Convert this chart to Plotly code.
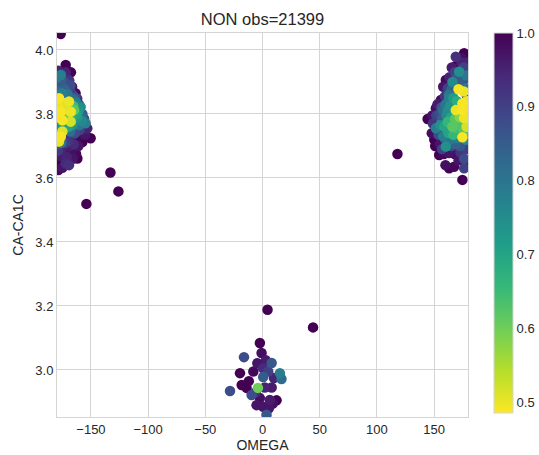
import plotly.graph_objects as go

# Left cluster (OMEGA near -180)
left_omega = [-176.5, -172.1, -167.5, -178.5, -175.5, -179.0, -176.4, -171.5, -169.0, -173.5,
              -178.5, -176.0, -170.6, -166.5, -168.5, -173.0, -179.0, -163.5, -166.0, -170.5,
              -175.5, -162.0, -165.0, -160.5, -159.0, -163.0, -164.8, -161.0, -157.5, -156.0,
              -154.7, -158.0, -162.0, -160.0, -153.2, -156.5, -150.3, -155.0, -159.0, -163.0,
              -166.0, -170.0, -174.0, -178.5, -162.0, -166.0, -170.0, -173.0, -157.5, -161.0,
              -165.0, -169.0, -172.5, -179.0, -176.0, -172.0, -167.0, -163.0, -179.0, -161.9,
              -166.0, -171.0, -176.0, -179.0, -169.2, -175.0, -178.5, -172.0,
              -176.0, -172.0, -168.0, -164.0, -161.0, -158.0, -163.0, -167.0, -171.0, -160.0,
              -164.0, -168.0, -176.0, -170.0,
              -175.0, -172.0, -177.9, -169.2, -173.0, -179.0, -176.4, -167.7, -171.0, -175.0,
              -167.7, -179.0, -176.4, -178.0, -175.0, -172.0, -165.5,
              -133.0, -126.0, -154.0]
left_ca = [4.050, 3.953, 3.930, 3.935, 3.925, 3.915, 3.922, 3.915, 3.905, 3.900,
           3.895, 3.890, 3.890, 3.885, 3.875, 3.878, 3.872, 3.865, 3.860, 3.862,
           3.865, 3.848, 3.845, 3.830, 3.822, 3.835, 3.812, 3.808, 3.800, 3.785,
           3.771, 3.778, 3.790, 3.765, 3.755, 3.750, 3.724, 3.735, 3.742, 3.755,
           3.765, 3.760, 3.755, 3.760, 3.725, 3.735, 3.728, 3.730, 3.712, 3.700,
           3.705, 3.700, 3.710, 3.705, 3.690, 3.685, 3.680, 3.675, 3.685, 3.661,
           3.660, 3.665, 3.668, 3.655, 3.640, 3.632, 3.625, 3.645,
           3.905, 3.930, 3.890, 3.850, 3.820, 3.790, 3.800, 3.790, 3.775, 3.750,
           3.740, 3.745, 3.710, 3.715,
           3.770, 3.755, 3.849, 3.839, 3.830, 3.825, 3.807, 3.807, 3.815, 3.780,
           3.776, 3.790, 3.729, 3.714, 3.745, 3.795, 3.825,
           3.617, 3.558, 3.519]
left_val = [1.00, 1.00, 1.00, 0.95, 0.93, 0.80, 0.78, 0.97, 0.92, 0.88,
            0.90, 0.86, 0.89, 0.97, 0.91, 0.84, 0.83, 0.99, 0.90, 0.80,
            0.78, 0.92, 0.82, 0.90, 0.75, 0.78, 0.62, 0.73, 0.85, 0.88,
            0.78, 0.76, 0.72, 0.80, 0.95, 0.96, 1.00, 0.97, 0.98, 0.92,
            0.74, 0.70, 0.73, 0.76, 0.99, 0.95, 0.93, 0.98, 1.00, 0.97,
            0.94, 0.96, 0.90, 0.88, 0.95, 0.97, 0.98, 0.99, 0.91, 1.00,
            0.97, 0.95, 0.96, 1.00, 0.93, 0.97, 0.99, 0.94,
            0.85, 0.95, 0.88, 0.86, 0.80, 0.82, 0.70, 0.68, 0.72, 0.90,
            0.88, 0.82, 0.80, 0.92,
            0.72, 0.74, 0.49, 0.50, 0.51, 0.50, 0.49, 0.50, 0.55, 0.49,
            0.52, 0.50, 0.49, 0.50, 0.51, 0.60, 0.65,
            1.00, 1.00, 1.00]

# Right cluster (OMEGA near +180)
right_omega = [176.3, 169.0, 174.0, 169.0, 165.5, 178.5, 176.0, 172.0, 160.3, 163.5,
               166.1, 169.5, 178.0, 175.5, 158.0, 162.0, 165.0, 163.2, 156.0, 159.5,
               153.0, 151.6, 156.5, 160.0, 164.0, 144.4, 148.5, 152.0, 157.4, 161.0,
               151.6, 155.5, 149.0, 159.0, 166.1, 171.0, 150.2, 148.0, 154.0, 158.0,
               162.5, 167.0, 160.3, 165.0, 169.0, 155.0, 151.0, 154.5, 158.5, 163.0,
               168.0, 173.0, 176.3, 171.5, 178.5, 163.2, 167.5, 160.0, 176.3, 179.0,
               174.8, 178.5,
               163.0, 167.0, 170.0, 158.0, 162.0, 155.0, 165.0, 162.0, 169.0, 172.0,
               176.0, 164.0, 170.0, 178.0, 160.0, 157.0, 173.0, 178.0, 173.0, 168.0,
               174.0, 178.0,
               176.0, 172.5, 168.5, 171.4, 176.0, 174.8, 178.5, 169.0, 174.8, 176.3,
               179.0, 174.8, 178.5,
               118.0]
right_ca = [3.990, 3.979, 3.975, 3.950, 3.945, 3.960, 3.945, 3.932, 3.906, 3.915,
            3.900, 3.910, 3.920, 3.905, 3.885, 3.880, 3.875, 3.849, 3.844, 3.855,
            3.830, 3.818, 3.820, 3.830, 3.825, 3.784, 3.795, 3.795, 3.786, 3.795,
            3.755, 3.765, 3.770, 3.760, 3.760, 3.765, 3.720, 3.740, 3.735, 3.730,
            3.740, 3.735, 3.698, 3.700, 3.705, 3.705, 3.700, 3.672, 3.675, 3.678,
            3.675, 3.680, 3.660, 3.655, 3.690, 3.630, 3.635, 3.640, 3.630, 3.645,
            3.594, 3.860,
            3.860, 3.850, 3.840, 3.810, 3.810, 3.800, 3.790, 3.775, 3.755, 3.745,
            3.745, 3.720, 3.725, 3.720, 3.720, 3.690, 3.700, 3.880, 3.895, 3.930,
            3.960, 3.980,
            3.800, 3.790, 3.785, 3.877, 3.870, 3.833, 3.840, 3.812, 3.812, 3.787,
            3.810, 3.727, 3.760,
            3.675]
right_val = [1.00, 0.93, 0.98, 1.00, 0.96, 0.95, 0.90, 0.75, 0.99, 0.95,
             0.76, 0.85, 0.80, 0.88, 0.97, 0.90, 0.84, 0.78, 0.99, 0.92,
             0.96, 0.98, 0.86, 0.80, 0.74, 1.00, 0.97, 0.90, 0.84, 0.76,
             0.78, 0.74, 0.92, 0.70, 0.62, 0.63, 1.00, 0.98, 0.88, 0.78,
             0.70, 0.66, 0.74, 0.88, 0.84, 0.97, 1.00, 1.00, 0.99, 0.97,
             0.98, 0.92, 0.88, 0.97, 0.90, 1.00, 0.99, 0.98, 0.90, 0.97,
             1.00, 0.96,
             0.80, 0.72, 0.68, 0.82, 0.75, 0.88, 0.70, 0.66, 0.64, 0.72,
             0.62, 0.80, 0.78, 0.75, 0.86, 0.90, 0.86, 0.80, 0.85, 0.90,
             0.95, 1.00,
             0.60, 0.58, 0.62, 0.49, 0.50, 0.49, 0.50, 0.50, 0.49, 0.50,
             0.51, 0.49, 0.52,
             1.00]

# Center cluster (OMEGA near 0)
center_omega = [4.4, 44.2, -2.3, -0.8, -16.2, 8.0, 3.0, -4.5, -19.7, -8.0,
                0.5, 5.0, 15.2, 16.6, 10.0, 0.6, -12.0, -18.2, -13.9, -28.4,
                -9.5, -6.0, 2.0, 8.0, 12.3, -2.3, -5.2, 6.4, 0.6, 5.6,
                9.0, 3.5, -4.0]
center_ca = [3.188, 3.133, 3.084, 3.053, 3.040, 3.022, 3.030, 3.021, 2.990, 2.995,
             3.005, 2.995, 2.990, 2.972, 2.975, 2.978, 2.965, 2.953, 2.944, 2.934,
             2.922, 2.930, 2.945, 2.945, 2.905, 2.912, 2.890, 2.906, 2.885, 2.880,
             2.895, 2.860, 2.944]
center_val = [1.00, 1.00, 1.00, 0.98, 0.88, 0.86, 0.96, 0.97, 1.00, 0.99,
              0.94, 0.90, 0.78, 0.82, 0.95, 0.85, 1.00, 1.00, 1.00, 0.88,
              0.88, 0.93, 0.95, 0.96, 1.00, 0.98, 0.97, 0.96, 0.97, 0.97,
              0.98, 0.86, 0.60]

x_range = [-179.7, 179.7]
y_range = [2.853, 4.053]
x_ticks = [-150, -100, -50, 0, 50, 100, 150]
x_ticktext = ["\u2212150", "\u2212100", "\u221250", "0", "50", "100", "150"]
y_ticks = [3.0, 3.2, 3.4, 3.6, 3.8, 4.0]
c_ticks = [0.5, 0.6, 0.7, 0.8, 0.9, 1.0]
c_min, c_max = 0.486, 1.0

omega = left_omega + right_omega + center_omega
ca = left_ca + right_ca + center_ca
val = left_val + right_val + center_val
order = sorted(range(len(val)), key=lambda i: -val[i])
omega = [omega[i] for i in order]
ca = [ca[i] for i in order]
val = [val[i] for i in order]

grid = "#d5d5d5"
txt = "#262626"
font = "Liberation Sans"

fig = go.Figure(go.Scatter(
    x=omega, y=ca, mode="markers",
    marker=dict(
        size=10.5, color=val, colorscale="Viridis", reversescale=True,
        cmin=c_min, cmax=c_max, line=dict(width=0), opacity=1,
        colorbar=dict(
            x=(494 - 57) / 411, xanchor="left", xpad=0, y=1, yanchor="top", ypad=0,
            len=380 / 384, lenmode="fraction", thickness=19,
            outlinecolor=grid, outlinewidth=1,
            tickvals=c_ticks, tickformat=".1f", ticks="",
            tickfont=dict(family=font, size=13, color=txt),
        ),
    ),
    showlegend=False,
))

fig.update_layout(
    width=539, height=455,
    margin=dict(l=57, r=71, t=33, b=38, autoexpand=False),
    paper_bgcolor="white", plot_bgcolor="white",
    font=dict(family=font, color=txt),
    title=dict(text="NON obs=21399", x=(57 + 205.5) / 539, xanchor="center",
               y=1 - 19 / 455, yanchor="middle", yref="container",
               font=dict(family=font, size=16.5, color=txt)),
    xaxis=dict(range=x_range, tickvals=x_ticks, ticktext=x_ticktext, automargin=False,
               showgrid=True, gridcolor=grid, gridwidth=1, zeroline=False,
               showline=True, linecolor=grid, linewidth=1, mirror=True,
               ticks="", tickfont=dict(family=font, size=13, color=txt),
               title=dict(text="OMEGA", font=dict(family=font, size=14, color=txt), standoff=4)),
    yaxis=dict(range=y_range, tickvals=y_ticks, tickformat=".1f", automargin=False,
               showgrid=True, gridcolor=grid, gridwidth=1, zeroline=False,
               showline=True, linecolor=grid, linewidth=1, mirror=True,
               ticks="", tickfont=dict(family=font, size=13, color=txt),
               title=dict(text="CA-CA1C", font=dict(family=font, size=14, color=txt), standoff=8)),
)

fig.write_html("out.html")
